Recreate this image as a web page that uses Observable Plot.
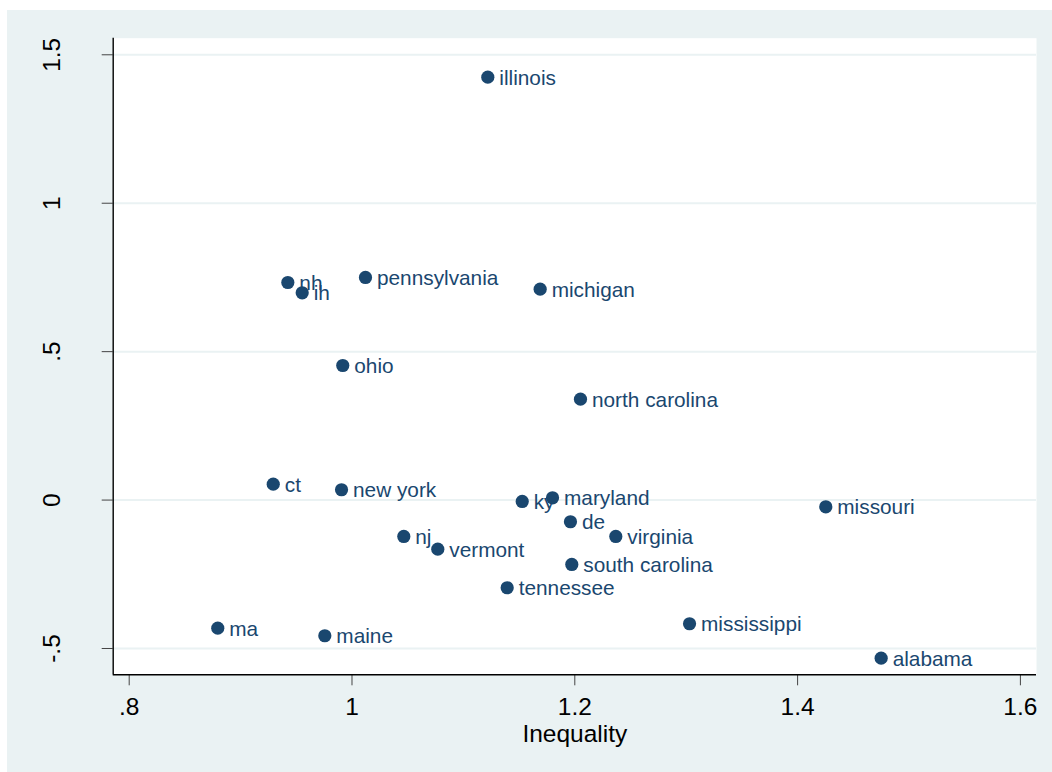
<!DOCTYPE html>
<html><head><meta charset="utf-8">
<script src="https://cdn.jsdelivr.net/npm/d3@7"></script>
<script src="https://cdn.jsdelivr.net/npm/@observablehq/plot@0.6"></script>
<style>
html,body{margin:0;padding:0;background:#fff;}
#panel{position:absolute;left:7px;top:10px;width:1045px;height:762px;background:#EAF2F3;overflow:hidden;}
#panel svg{display:block;}
</style></head><body><div id="panel"></div>
<script>
const states = ["illinois","nh","ih","pennsylvania","michigan","ohio","north carolina","ct","new york","ky","maryland","de","virginia","missouri","nj","vermont","south carolina","tennessee","mississippi","alabama","ma","maine"];
const inequality = [1.1219,0.9424,0.9553,1.0121,1.1689,0.9917,1.2051,0.9293,0.9906,1.1528,1.1800,1.1961,1.2368,1.4253,1.0465,1.0770,1.1973,1.1393,1.3030,1.4750,0.8795,0.9756];
const outcome = [1.4246,0.7330,0.6983,0.7499,0.7105,0.4534,0.3399,0.0536,0.0347,-0.0047,0.0077,-0.0731,-0.1226,-0.0226,-0.1226,-0.1654,-0.2169,-0.2954,-0.4167,-0.5326,-0.4315,-0.4571];
const xTicks = [0.8, 1, 1.2, 1.4, 1.6];
const xTickLabels = [".8", "1", "1.2", "1.4", "1.6"];
const yTicks = [-0.5, 0, 0.5, 1, 1.5];
const yTickLabels = ["-.5", "0", ".5", "1", "1.5"];
const xTitle = "Inequality";

const data = states.map((s, i) => ({state: s, x: inequality[i], y: outcome[i]}));
const navy = "#1A476F";
const font = "'Liberation Sans', Arial, Helvetica, sans-serif";

const chart = Plot.plot({
  width: 1045, height: 762,
  marginLeft: 105.7, marginTop: 27.7, marginRight: 16, marginBottom: 97.7,
  style: {background: "transparent", fontFamily: font, overflow: "visible"},
  x: {domain: [0.78564, 1.61445]},
  y: {domain: [-0.5886, 1.5559]},
  marks: [
    Plot.frame({fill: "white", stroke: null}),
    Plot.gridY(yTicks, {stroke: "#EAF2F3", strokeOpacity: 1, strokeWidth: 2}),
    Plot.axisX(xTicks, {tickSize: 11, tickPadding: 12, tickFormat: d => xTickLabels[xTicks.indexOf(d)], fontSize: 24.5, label: null, stroke: "#444", fill: "#000"}),
    Plot.axisY(yTicks, {tickSize: 11, tickPadding: 42.5, tickRotate: -90, tickFormat: d => yTickLabels[yTicks.indexOf(d)], fontSize: 24.5, label: null, stroke: "#444", fill: "#000"}),
    Plot.ruleX([0.78564], {stroke: "#000", strokeWidth: 1.4}),
    Plot.ruleY([-0.5886], {stroke: "#000", strokeWidth: 1.4}),
    Plot.text([xTitle], {text: d => d, frameAnchor: "bottom", dy: 50, lineAnchor: "top", fontSize: 24.5, fill: "#000"}),
    Plot.text(data, {x: "x", y: "y", text: "state", textAnchor: "start", dx: 11.5, dy: 1, fontSize: 20.8, fill: navy}),
    Plot.dot(data, {x: "x", y: "y", r: 6.6, fill: navy, stroke: null})
  ]
});
document.getElementById("panel").appendChild(chart);
</script></body></html>
